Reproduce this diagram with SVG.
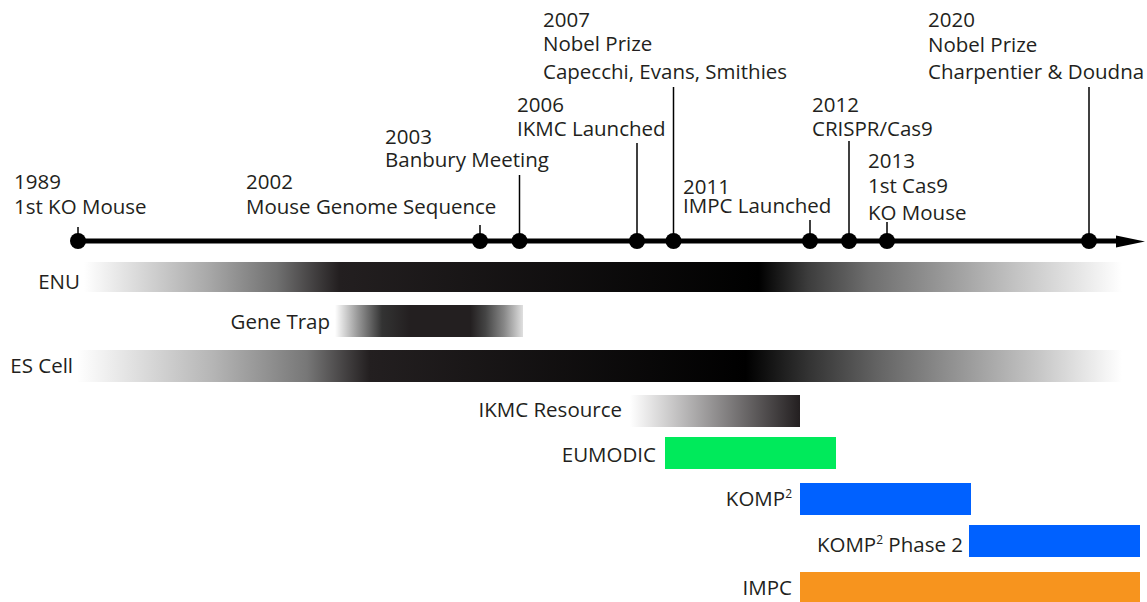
<svg xmlns="http://www.w3.org/2000/svg" width="1147" height="602" viewBox="0 0 1147 602">
<style>
text{font-family:"Open Sans","Noto Sans",sans-serif;font-size:20.5px;fill:#231f20}
.lbl{text-anchor:end}
.tick{stroke:#000;stroke-width:1.5}
.dot{fill:#000}
</style>
<defs>
<linearGradient id="gLong" x1="0" y1="0" x2="1" y2="0">
<stop offset="0" stop-color="#ffffff"/>
<stop offset="0.119" stop-color="#a9a9a9"/>
<stop offset="0.186" stop-color="#707070"/>
<stop offset="0.246" stop-color="#231f20"/>
<stop offset="0.65" stop-color="#000000"/>
<stop offset="0.697" stop-color="#3c3c3c"/>
<stop offset="0.756" stop-color="#6e6e6e"/>
<stop offset="0.829" stop-color="#999999"/>
<stop offset="0.896" stop-color="#c2c2c2"/>
<stop offset="0.962" stop-color="#e8e8e8"/>
<stop offset="1" stop-color="#ffffff"/>
</linearGradient>
<linearGradient id="gES" x1="0" y1="0" x2="1" y2="0">
<stop offset="0" stop-color="#ffffff"/>
<stop offset="0.13" stop-color="#b5b5b5"/>
<stop offset="0.22" stop-color="#777777"/>
<stop offset="0.28" stop-color="#231f20"/>
<stop offset="0.64" stop-color="#000000"/>
<stop offset="0.70" stop-color="#333333"/>
<stop offset="0.77" stop-color="#666666"/>
<stop offset="0.85" stop-color="#999999"/>
<stop offset="0.92" stop-color="#c6c6c6"/>
<stop offset="1" stop-color="#ffffff"/>
</linearGradient>
<linearGradient id="gTrap" x1="0" y1="0" x2="1" y2="0">
<stop offset="0" stop-color="#ffffff"/>
<stop offset="0.12" stop-color="#999999"/>
<stop offset="0.25" stop-color="#333333"/>
<stop offset="0.4" stop-color="#231f20"/>
<stop offset="0.72" stop-color="#231f20"/>
<stop offset="0.8" stop-color="#444444"/>
<stop offset="0.9" stop-color="#888888"/>
<stop offset="1" stop-color="#e0e0e0"/>
</linearGradient>
<linearGradient id="gIKMC" x1="0" y1="0" x2="1" y2="0">
<stop offset="0" stop-color="#ffffff"/>
<stop offset="1" stop-color="#231f20"/>
</linearGradient>
</defs>

<g id="connectors">
<line x1="78" y1="241" x2="1120" y2="241" stroke="#000" stroke-width="5"/>
<polygon points="1116,235.5 1145,241.5 1116,247.5" fill="#000"/>
<line class="tick" x1="78" y1="227" x2="78" y2="241"/>
<line class="tick" x1="480" y1="225" x2="480" y2="241"/>
<line class="tick" x1="519.5" y1="175" x2="519.5" y2="241"/>
<line class="tick" x1="637" y1="143" x2="637" y2="241"/>
<line class="tick" x1="673.5" y1="87" x2="673.5" y2="241"/>
<line class="tick" x1="810" y1="220" x2="810" y2="241"/>
<line class="tick" x1="849" y1="141" x2="849" y2="241"/>
<line class="tick" x1="887" y1="222" x2="887" y2="241"/>
<line class="tick" x1="1089" y1="87" x2="1089" y2="241"/>
</g>

<g id="e1989"><circle class="dot" cx="78" cy="241" r="8"/><text x="14" y="189">1989</text><text x="14" y="214">1st KO Mouse</text></g>
<g id="e2002"><circle class="dot" cx="480" cy="241" r="8"/><text x="246" y="189">2002</text><text x="246" y="214">Mouse Genome Sequence</text></g>
<g id="e2003"><circle class="dot" cx="519.5" cy="241" r="8"/><text x="385" y="144">2003</text><text x="385" y="167">Banbury Meeting</text></g>
<g id="e2006"><circle class="dot" cx="637" cy="241" r="8"/><text x="517" y="112">2006</text><text x="517" y="136">IKMC Launched</text></g>
<g id="e2007"><circle class="dot" cx="673.5" cy="241" r="8"/><text x="543" y="27">2007</text><text x="543" y="51">Nobel Prize</text><text x="543" y="79">Capecchi, Evans, Smithies</text></g>
<g id="e2011"><circle class="dot" cx="810" cy="241" r="8"/><text x="683" y="194">2011</text><text x="683" y="213">IMPC Launched</text></g>
<g id="e2012"><circle class="dot" cx="849" cy="241" r="8"/><text x="812" y="112">2012</text><text x="812" y="136">CRISPR/Cas9</text></g>
<g id="e2013"><circle class="dot" cx="887" cy="241" r="8"/><text x="868" y="168">2013</text><text x="868" y="193">1st Cas9</text><text x="868" y="220">KO Mouse</text></g>
<g id="e2020"><circle class="dot" cx="1089" cy="241" r="8"/><text x="928" y="27">2020</text><text x="928" y="52">Nobel Prize</text><text x="928" y="79">Charpentier &amp; Doudna</text></g>

<g id="enu"><rect x="84" y="262" width="1038" height="30" fill="url(#gLong)"/><text class="lbl" x="80" y="289">ENU</text></g>
<g id="genetrap"><rect x="335" y="305" width="188" height="32" fill="url(#gTrap)"/><text class="lbl" x="330" y="329">Gene Trap</text></g>
<g id="escell"><rect x="77" y="350" width="1045" height="32" fill="url(#gES)"/><text class="lbl" x="73" y="373">ES Cell</text></g>
<g id="ikmc"><rect x="630" y="395" width="170" height="32" fill="url(#gIKMC)"/><text class="lbl" x="622" y="417">IKMC Resource</text></g>
<g id="eumodic"><rect x="665" y="437" width="171" height="32" fill="#00ea5b"/><text class="lbl" x="656" y="462">EUMODIC</text></g>
<g id="komp2"><rect x="800" y="483" width="171" height="32" fill="#0061ff"/><text class="lbl" x="792" y="506">KOMP<tspan font-size="12" dy="-8">2</tspan></text></g>
<g id="komp2p2"><rect x="969" y="525" width="171" height="32" fill="#0061ff"/><text class="lbl" x="963" y="552">KOMP<tspan font-size="12" dy="-8">2</tspan><tspan dy="8"> Phase 2</tspan></text></g>
<g id="impc"><rect x="800" y="572" width="340" height="30" fill="#f7941e"/><text class="lbl" x="792" y="595">IMPC</text></g>
</svg>
